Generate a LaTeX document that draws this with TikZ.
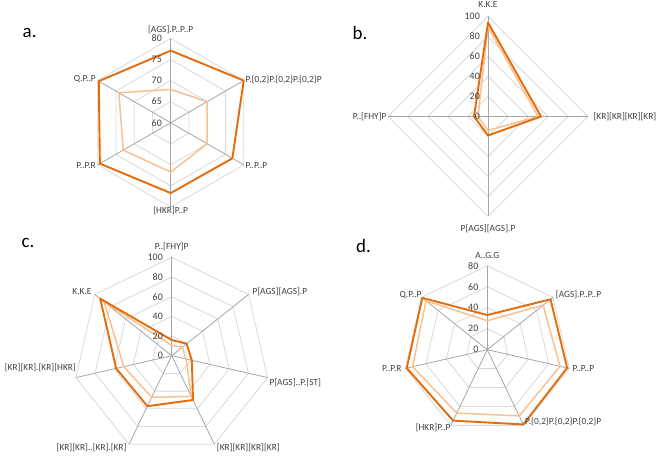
\documentclass[tikz,border=0pt]{standalone}
\usepackage{fontspec}
\setmainfont{Carlito}
\definecolor{darko}{HTML}{E46C0A}
\definecolor{lighto}{HTML}{FAC090}
\definecolor{gridc}{HTML}{D9D9D9}
\definecolor{axisc}{HTML}{A6A6A6}
\definecolor{txt}{HTML}{404040}
\tikzset{
 gridline/.style={draw=gridc, line width=0.8bp},
 axisline/.style={draw=axisc, line width=0.8bp},
 darkser/.style={draw=darko, line width=1.9bp, line join=round},
 lightser/.style={draw=lighto, line width=1.5bp, line join=round},
 cat/.style={inner sep=0pt, text=txt, font=\fontsize{9.4}{11}\selectfont},
 tick/.style={inner sep=0pt, text=txt, font=\fontsize{10}{12}\selectfont, anchor=east},
 panel/.style={inner sep=0pt, text=black, font=\fontsize{19}{22}\selectfont, anchor=west},
}
\newcommand\rgrid[3]{%
  \foreach \j in {1,...,#3} {
    \draw[gridline] (90:{\j*#2/#3}) \foreach \i in {1,...,#1} { -- ({90-\i*360/#1}:{\j*#2/#3}) } -- cycle;
  }
  \foreach \i in {1,...,#1} { \draw[axisline] (0,0) -- ({90-\i*360/#1}:#2); }
}
\newcommand\rseries[6]{%
  \foreach \v [count=\i from 0] in {#6} {\coordinate (#2\i) at ({90-\i*360/#3}:{(\v-#5)*#4});}
  \pgfmathtruncatemacro\rlast{#3-1}
  \draw[#1] (#20) \foreach \i in {1,...,\rlast} { -- (#2\i) } -- cycle;
}
\begin{document}
\begin{tikzpicture}[x=1bp,y=-1bp]
\useasboundingbox (0,0) rectangle (661,456);
\fill[white] (0,0) rectangle (661,456);
% ---------- panel a
\begin{scope}[shift={(170.7,122.7)},y=1bp]
 \rgrid{6}{84.3}{4}
 \rseries{lightser}{al}{6}{4.215}{60}{67.9,70,70,71.7,73,74.2}
 \rseries{darkser}{ad}{6}{4.215}{60}{77.1,80,76.9,76.7,79.4,79.7}
\end{scope}
\foreach \t [count=\j from 0] in {60,65,70,75,80} \node[tick] (ta\j) at (162,{122.7-\j*21.075}) {\t};
\node[panel] (pa) at (22.5,32.5) {a.};
\node[cat] (a0) at (170.7,29.3) {[AGS].P..P..P};
\node[cat,anchor=west] (a1) at (245.5,79.3) {P.\{0,2\}P.\{0,2\}P.\{0,2\}P};
\node[cat,anchor=west] (a2) at (245.5,165.7) {P..P..P};
\node[cat] (a3) at (170.7,210.7) {[HKR]P..P};
\node[cat,anchor=east] (a4) at (96,165.7) {P..P.R};
\node[cat,anchor=east] (a5) at (96,79.3) {Q.P..P};
% ---------- panel b
\begin{scope}[shift={(488,116.5)},y=1bp]
 \rgrid{4}{100}{5}
 \rseries{lightser}{bl}{4}{1}{0}{90,50,14,10}
 \rseries{darkser}{bd}{4}{1}{0}{94,53,19,14}
\end{scope}
\foreach \t [count=\j from 0] in {0,20,40,60,80,100} \node[tick] (tb\j) at (480,{116.5-\j*20}) {\t};
\node[panel] (pb) at (352.5,33.5) {b.};
\node[cat] (b0) at (488,5) {K.K.E};
\node[cat,anchor=west] (b1) at (593.3,116.7) {[KR][KR][KR][KR]};
\node[cat] (b2) at (488,228.5) {P[AGS][AGS].P};
\node[cat,anchor=east] (b3) at (386.7,116.7) {P..[FHY]P};
% ---------- panel c
\begin{scope}[shift={(171.7,355.7)},y=1bp]
 \rgrid{7}{98.3}{5}
 \rseries{lightser}{cl}{7}{0.983}{0}{10.5,14,15,46,47,50,88}
 \rseries{darkser}{cd}{7}{0.983}{0}{16,19.5,21,50,57,58,93}
\end{scope}
\foreach \t [count=\j from 0] in {0,20,40,60,80,100} \node[tick] (tc\j) at (163,{355.7-\j*19.66}) {\t};
\node[panel] (pc) at (21.5,243) {c.};
\node[cat] (c0) at (171.7,246.3) {P..[FHY]P};
\node[cat,anchor=west] (c1) at (252.3,291.3) {P[AGS][AGS].P};
\node[cat,anchor=west] (c2) at (269.3,383) {P[AGS]..P.[ST]};
\node[cat,anchor=west] (c3) at (216.7,448) {[KR][KR][KR][KR]};
\node[cat,anchor=east] (c4) at (126.7,448) {[KR][KR]..[KR].[KR]};
\node[cat,anchor=east] (c5) at (76,367.3) {[KR][KR].[KR][HKR]};
\node[cat,anchor=east] (c6) at (91.7,291.3) {K.K.E};
% ---------- panel d
\begin{scope}[shift={(487.3,349.7)},y=1bp]
 \rgrid{7}{84}{4}
 \rseries{lightser}{dl}{7}{1.05}{0}{27.6,68,71,70,67,73,74.7}
 \rseries{darkser}{dd}{7}{1.05}{0}{33,77,78,79,75,78.7,79.2}
\end{scope}
\foreach \t [count=\j from 0] in {0,20,40,60,80} \node[tick] (td\j) at (478.5,{349.7-\j*21}) {\t};
\node[panel] (pd) at (356,246.3) {d.};
\node[cat] (d0) at (487.3,255.3) {A..G.G};
\node[cat,anchor=west] (d1) at (555.7,294.7) {[AGS].P..P..P};
\node[cat,anchor=west] (d2) at (572.3,368.7) {P..P..P};
\node[cat,anchor=west] (d3) at (525,421.3) {P.\{0,2\}P.\{0,2\}P.\{0,2\}P};
\node[cat,anchor=east] (d4) at (450.7,428) {[HKR]P..P};
\node[cat,anchor=east] (d5) at (401.7,368.7) {P..P.R};
\node[cat,anchor=east] (d6) at (421.7,294.7) {Q.P..P};
\end{tikzpicture}
\end{document}
